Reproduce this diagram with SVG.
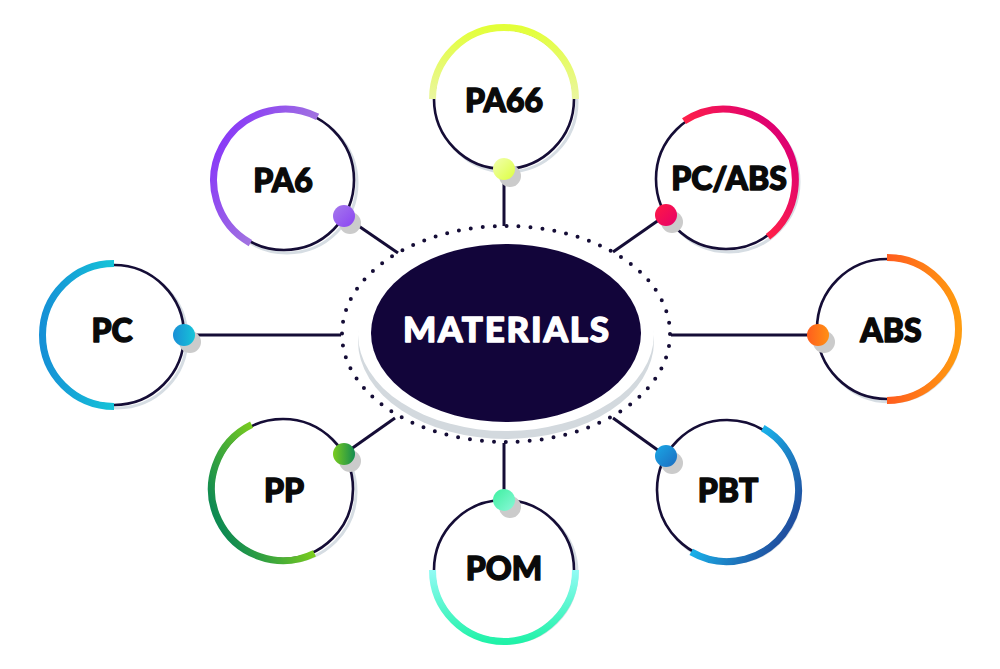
<svg xmlns="http://www.w3.org/2000/svg" width="1000" height="669" viewBox="0 0 1000 669">
<defs>
<style>
.ring{fill:#ffffff;stroke:#150d36;stroke-width:2.6}
.rshadow{fill:none;stroke:#d6dde3;stroke-width:3}
.arc{fill:none;stroke-width:7}
.dshadow{fill:#cbcbcb}
.conn{stroke:#150d36;stroke-width:3;fill:none}
.lbl{font-family:Lato,"Noto Sans","Liberation Sans",sans-serif;font-weight:900;font-size:32px;fill:#0a0a0a;stroke:#0a0a0a;stroke-width:1.4;stroke-linejoin:round;text-anchor:middle}
</style>
<linearGradient id="gPA66" gradientUnits="userSpaceOnUse" x1="504" y1="99" x2="504" y2="27"><stop offset="0" stop-color="#eaf6a0"/><stop offset="1" stop-color="#e3ff38"/></linearGradient>
<linearGradient id="gPA6" gradientUnits="userSpaceOnUse" x1="284" y1="180" x2="221" y2="146"><stop offset="0" stop-color="#a173e0"/><stop offset="1" stop-color="#8a3cf6"/></linearGradient>
<linearGradient id="gPCABS" gradientUnits="userSpaceOnUse" x1="726" y1="179" x2="784" y2="137"><stop offset="0" stop-color="#ff2048"/><stop offset="1" stop-color="#de0072"/></linearGradient>
<linearGradient id="gPC" gradientUnits="userSpaceOnUse" x1="114" y1="335" x2="42" y2="335"><stop offset="0" stop-color="#16c4d8"/><stop offset="1" stop-color="#1590d6"/></linearGradient>
<linearGradient id="gABS" gradientUnits="userSpaceOnUse" x1="887" y1="329" x2="959" y2="329"><stop offset="0" stop-color="#ff5c1e"/><stop offset="1" stop-color="#ff9c10"/></linearGradient>
<linearGradient id="gPP" gradientUnits="userSpaceOnUse" x1="283" y1="489" x2="218" y2="520"><stop offset="0" stop-color="#7acc1e"/><stop offset="1" stop-color="#0e8a52"/></linearGradient>
<linearGradient id="gPBT" gradientUnits="userSpaceOnUse" x1="727" y1="490" x2="789" y2="526"><stop offset="0" stop-color="#19b2ea"/><stop offset="1" stop-color="#2050a0"/></linearGradient>
<linearGradient id="gPOM" gradientUnits="userSpaceOnUse" x1="504" y1="570" x2="504" y2="642"><stop offset="0" stop-color="#92fbf5"/><stop offset="1" stop-color="#20f2a8"/></linearGradient>
<linearGradient id="dPA66" x1="0" y1="0" x2="1" y2="1"><stop offset="0" stop-color="#f2ffb0"/><stop offset="1" stop-color="#dcff40"/></linearGradient>
<linearGradient id="dPA6" x1="0" y1="0" x2="1" y2="1"><stop offset="0" stop-color="#a679ec"/><stop offset="1" stop-color="#8a44f2"/></linearGradient>
<linearGradient id="dPCABS" x1="0" y1="0" x2="1" y2="1"><stop offset="0" stop-color="#ff1a44"/><stop offset="1" stop-color="#e6006a"/></linearGradient>
<linearGradient id="dPC" x1="0" y1="0" x2="1" y2="0"><stop offset="0" stop-color="#1a8fd6"/><stop offset="1" stop-color="#16c4d8"/></linearGradient>
<linearGradient id="dABS" x1="0" y1="0" x2="1" y2="0"><stop offset="0" stop-color="#ff5e1e"/><stop offset="1" stop-color="#ff9014"/></linearGradient>
<linearGradient id="dPP" x1="0" y1="0" x2="1" y2="0"><stop offset="0" stop-color="#7acc1e"/><stop offset="1" stop-color="#148c50"/></linearGradient>
<linearGradient id="dPBT" x1="0" y1="0" x2="1" y2="1"><stop offset="0" stop-color="#1aa8e6"/><stop offset="1" stop-color="#1c6cc0"/></linearGradient>
<linearGradient id="dPOM" x1="0" y1="0" x2="1" y2="1"><stop offset="0" stop-color="#3ef0a0"/><stop offset="1" stop-color="#8af8d8"/></linearGradient>
</defs>
<rect width="1000" height="669" fill="#ffffff"/>

<g id="connectors">
<path class="conn" d="M504 169 L504 226"/>
<path class="conn" d="M344 216 L398 253"/>
<path class="conn" d="M666 215 L613 252"/>
<path class="conn" d="M184 335 L341 335"/>
<path class="conn" d="M671 335 L818 335"/>
<path class="conn" d="M344 454 L395 418"/>
<path class="conn" d="M666 456 L613 418"/>
<path class="conn" d="M504 443 L504 500"/>
</g>

<g id="center">
<ellipse cx="506" cy="334" rx="164" ry="108" fill="none" stroke="#150d36" stroke-width="4" stroke-linecap="round" stroke-dasharray="0 12"/>
<ellipse cx="506" cy="341" rx="148" ry="98" fill="#d3d9de"/>
<ellipse cx="506" cy="334" rx="148" ry="97" fill="#ffffff"/>
<ellipse cx="506" cy="333" rx="135" ry="89" fill="#12053a"/>
<text x="506" y="342" font-family="Lato,'Noto Sans','Liberation Sans',sans-serif" font-weight="900" font-size="35" fill="#ffffff" stroke="#ffffff" stroke-width="1.3" stroke-linejoin="round" text-anchor="middle" textLength="206" lengthAdjust="spacing">MATERIALS</text>
</g>

<g id="node-pa66">
<circle class="rshadow" cx="507" cy="102" r="70"/>
<circle class="ring" cx="504" cy="99" r="70"/>
<path class="arc" stroke="url(#gPA66)" d="M432.5 99 A71.5 71.5 0 0 1 575.5 99"/>
<circle class="dshadow" cx="510" cy="176" r="11"/>
<circle cx="504" cy="169" r="11" fill="url(#dPA66)"/>
<text class="lbl" x="504" y="112">PA66</text>
</g>

<g id="node-pa6">
<circle class="rshadow" cx="287" cy="183" r="70"/>
<circle class="ring" cx="284" cy="180" r="70"/>
<path class="arc" stroke="url(#gPA6)" d="M250.4 243.1 A71.5 71.5 0 0 1 317.6 116.9"/>
<circle class="dshadow" cx="350" cy="223" r="11"/>
<circle cx="344" cy="216" r="11" fill="url(#dPA6)"/>
<text class="lbl" x="283" y="192">PA6</text>
</g>

<g id="node-pcabs">
<circle class="rshadow" cx="729" cy="182" r="70"/>
<circle class="ring" cx="726" cy="179" r="70"/>
<path class="arc" stroke="url(#gPCABS)" d="M684 121.2 A71.5 71.5 0 0 1 768 236.8"/>
<circle class="dshadow" cx="672" cy="222" r="11"/>
<circle cx="666" cy="215" r="11" fill="url(#dPCABS)"/>
<text class="lbl" x="729" y="190">PC/ABS</text>
</g>

<g id="node-pc">
<circle class="rshadow" cx="117" cy="338" r="70"/>
<circle class="ring" cx="114" cy="335" r="70"/>
<path class="arc" stroke="url(#gPC)" d="M114 406.5 A71.5 71.5 0 0 1 114 263.5"/>
<circle class="dshadow" cx="190" cy="342" r="11"/>
<circle cx="184" cy="335" r="11" fill="url(#dPC)"/>
<text class="lbl" x="112" y="342">PC</text>
</g>

<g id="node-abs">
<circle class="rshadow" cx="890" cy="332" r="70"/>
<circle class="ring" cx="887" cy="329" r="70"/>
<path class="arc" stroke="url(#gABS)" d="M887 257.5 A71.5 71.5 0 0 1 887 400.5"/>
<circle class="dshadow" cx="824" cy="342" r="11"/>
<circle cx="818" cy="335" r="11" fill="url(#dABS)"/>
<text class="lbl" x="891" y="342">ABS</text>
</g>

<g id="node-pp">
<circle class="rshadow" cx="286" cy="492" r="70"/>
<circle class="ring" cx="283" cy="489" r="70"/>
<path class="arc" stroke="url(#gPP)" d="M314.4 553.3 A71.5 71.5 0 0 1 251.6 424.7"/>
<circle class="dshadow" cx="350" cy="461" r="11"/>
<circle cx="344" cy="454" r="11" fill="url(#dPP)"/>
<text class="lbl" x="284" y="502">PP</text>
</g>

<g id="node-pbt">
<circle class="rshadow" cx="730" cy="493" r="70"/>
<circle class="ring" cx="727" cy="490" r="70"/>
<path class="arc" stroke="url(#gPBT)" d="M762.8 428.1 A71.5 71.5 0 0 1 691.2 551.9"/>
<circle class="dshadow" cx="672" cy="463" r="11"/>
<circle cx="666" cy="456" r="11" fill="url(#dPBT)"/>
<text class="lbl" x="728" y="502">PBT</text>
</g>

<g id="node-pom">
<circle class="rshadow" cx="507" cy="573" r="70"/>
<circle class="ring" cx="504" cy="570" r="70"/>
<path class="arc" stroke="url(#gPOM)" d="M575.5 570 A71.5 71.5 0 0 1 432.5 570"/>
<circle class="dshadow" cx="510" cy="507" r="11"/>
<circle cx="504" cy="500" r="11" fill="url(#dPOM)"/>
<text class="lbl" x="504" y="580">POM</text>
</g>
</svg>
